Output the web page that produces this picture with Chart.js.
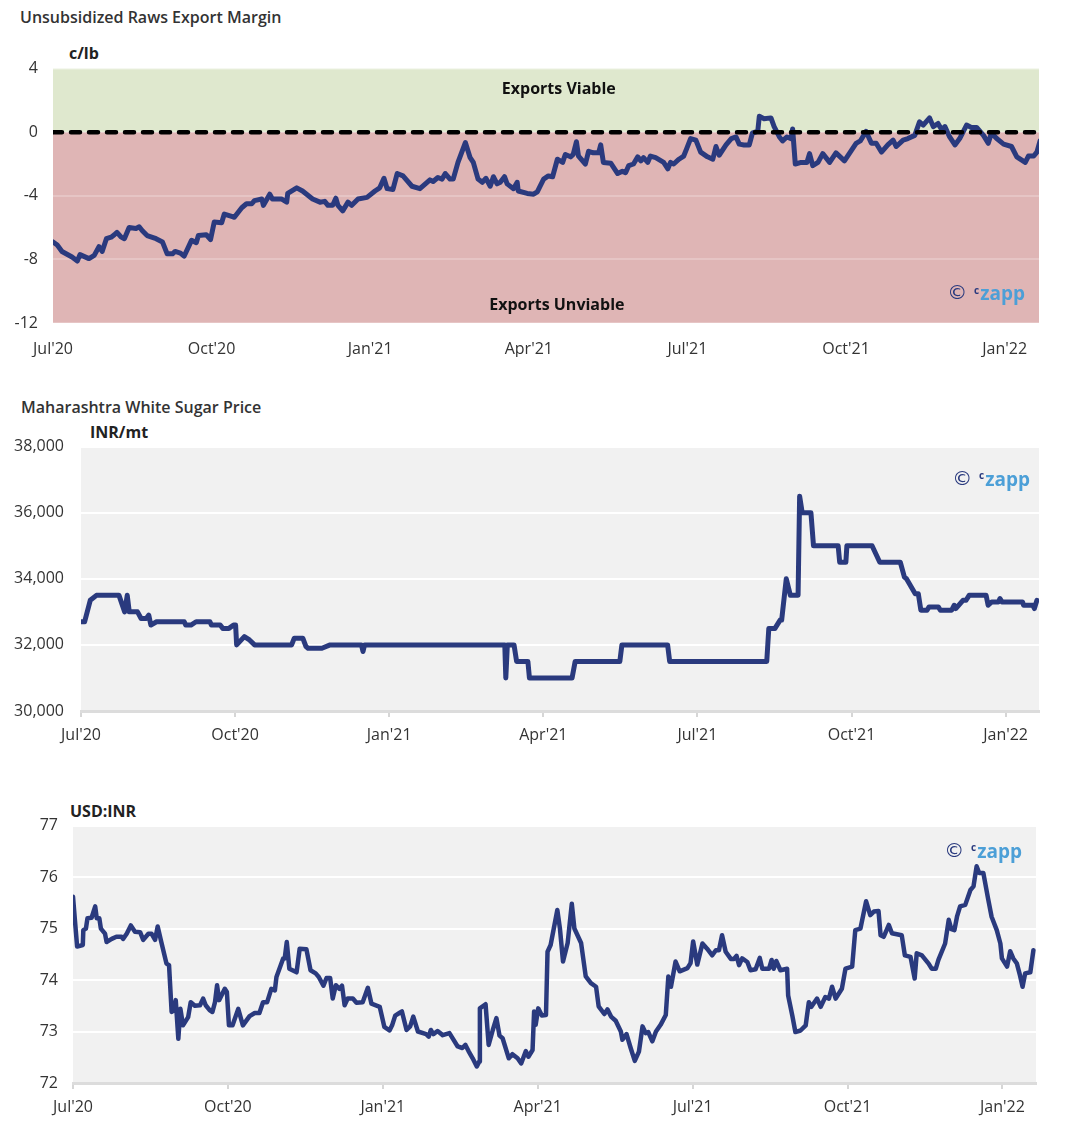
<!DOCTYPE html>
<html>
<head>
<meta charset="utf-8">
<script src="https://cdn.jsdelivr.net/npm/chart.js@4.4.1/dist/chart.umd.min.js"></script>
<style>
  body { margin: 0; background: #fff; font-family: 'Open Sans', sans-serif; }
  #page { position: relative; width: 1066px; height: 1134px; overflow: hidden; }
  .title { position: absolute; font-size: 16px; line-height: 20px; font-weight: 600; color: #333; white-space: nowrap; }
  .unit { position: absolute; font-size: 16px; line-height: 20px; font-weight: 700; color: #222; white-space: nowrap; }
  canvas { position: absolute; left: 0; }
</style>
</head>
<body>
<div id="page">
  <div class="title" style="left:20px; top:7px">Unsubsidized Raws Export Margin</div>
  <div class="unit" style="left:69px; top:43px">c/lb</div>
  <canvas id="marginChart" width="1066" height="313" style="top:44px"></canvas>

  <div class="title" style="left:21px; top:397px">Maharashtra White Sugar Price</div>
  <div class="unit" style="left:90px; top:422px">INR/mt</div>
  <canvas id="sugarChart" width="1066" height="325" style="top:420px"></canvas>

  <div class="unit" style="left:70px; top:801px">USD:INR</div>
  <canvas id="fxChart" width="1066" height="316" style="top:801px"></canvas>
</div>

<script>
// x values are months since 1 Jul 2020
const quarterTicks = [0, 3, 6, 9, 12, 15, 18];
const quarterLabels = ["Jul'20", "Oct'20", "Jan'21", "Apr'21", "Jul'21", "Oct'21", "Jan'22"];
const lastMonth = 18.65;

// Unsubsidized raws export margin, c/lb
const marginMonths = [0.00, 0.08, 0.17, 0.36, 0.46, 0.51, 0.68, 0.78, 0.87, 0.93, 1.01, 1.10, 1.16, 1.21, 1.29, 1.35,
  1.44, 1.57, 1.63, 1.69, 1.78, 1.95, 2.07, 2.16, 2.26, 2.31, 2.41, 2.48, 2.62, 2.71, 2.75, 2.90, 2.98, 3.05, 3.19,
  3.24, 3.38, 3.43, 3.57, 3.66, 3.76, 3.81, 3.95, 3.98, 4.10, 4.15, 4.32, 4.42, 4.44, 4.61, 4.72, 4.91, 5.05, 5.14,
  5.20, 5.29, 5.35, 5.39, 5.48, 5.58, 5.65, 5.77, 5.94, 6.09, 6.18, 6.26, 6.32, 6.43, 6.51, 6.62, 6.79, 6.94, 7.13,
  7.19, 7.28, 7.36, 7.42, 7.51, 7.57, 7.66, 7.80, 7.89, 7.95, 8.04, 8.12, 8.19, 8.27, 8.33, 8.40, 8.46, 8.54, 8.59,
  8.71, 8.78, 8.80, 8.97, 9.09, 9.16, 9.28, 9.37, 9.45, 9.54, 9.64, 9.69, 9.79, 9.84, 9.90, 9.94, 10.07, 10.13, 10.22,
  10.32, 10.36, 10.41, 10.55, 10.68, 10.77, 10.83, 10.89, 10.98, 11.06, 11.12, 11.17, 11.25, 11.30, 11.40, 11.55,
  11.63, 11.68, 11.74, 11.84, 11.93, 11.99, 12.06, 12.16, 12.25, 12.38, 12.48, 12.54, 12.60, 12.73, 12.83, 12.92,
  12.98, 13.07, 13.17, 13.23, 13.33, 13.36, 13.45, 13.58, 13.64, 13.74, 13.80, 13.88, 13.96, 13.99, 14.04, 14.15,
  14.26, 14.31, 14.37, 14.47, 14.56, 14.69, 14.81, 14.97, 15.19, 15.27, 15.38, 15.48, 15.57, 15.67, 15.79, 15.89,
  15.95, 16.08, 16.17, 16.30, 16.39, 16.46, 16.58, 16.65, 16.74, 16.81, 16.87, 16.96, 17.06, 17.15, 17.28, 17.37,
  17.47, 17.60, 17.69, 17.75, 17.85, 17.98, 18.13, 18.23, 18.39, 18.45, 18.55, 18.61, 18.67];
const marginValues = [-6.9, -7.1, -7.5, -7.85, -8.1, -7.7, -7.95, -7.75, -7.2, -7.5, -6.7, -6.6, -6.45, -6.3, -6.6, -6.7,
  -6.0, -6.05, -5.95, -6.2, -6.5, -6.7, -6.9, -7.65, -7.65, -7.5, -7.6, -7.8, -6.8, -6.95, -6.5, -6.45, -6.75, -5.65, -5.7,
  -5.15, -5.3, -5.35, -4.75, -4.5, -4.5, -4.3, -4.2, -4.6, -3.9, -4.2, -4.2, -4.4, -3.85, -3.5, -3.7, -4.2, -4.4, -4.35,
  -4.6, -4.6, -4.15, -4.6, -4.95, -4.4, -4.6, -4.2, -4.1, -3.7, -3.5, -2.9, -3.55, -3.6, -2.6, -2.75, -3.4, -3.55, -3.0,
  -3.1, -2.85, -2.95, -2.6, -2.95, -2.95, -1.9, -0.65, -1.6, -1.9, -2.95, -3.15, -2.9, -3.4, -2.8, -3.25, -3.15, -2.8, -3.25,
  -3.55, -3.15, -3.7, -3.85, -3.9, -3.75, -2.95, -2.75, -2.8, -1.7, -1.9, -1.4, -1.55, -1.4, -0.6, -1.5, -2.0, -1.2, -1.3,
  -1.3, -0.8, -1.9, -1.95, -2.6, -2.45, -2.55, -2.1, -2.0, -1.55, -1.8, -1.6, -1.9, -1.5, -1.6, -1.9,
  -2.3, -1.9, -2.0, -1.7, -1.5, -1.0, -0.4, -0.5, -1.25, -1.55, -1.7, -0.9, -1.45, -0.8, -0.4, -0.3,
  -0.75, -0.8, -0.8, -0.05, 0.05, 1.0, 0.85, 0.9, 0.35, -0.3, -0.55, -0.3, -0.4, 0.2, -2.0, -1.9,
  -1.9, -1.35, -2.1, -1.9, -1.35, -1.9, -1.3, -1.8, -0.7, -0.55, 0.05, -0.7, -0.7, -1.25, -0.8, -0.5,
  -0.9, -0.5, -0.4, -0.2, 0.65, 0.45, 0.9, 0.35, 0.55, 0.15, 0.35, -0.3, -0.8, -0.4, 0.45, 0.3,
  0.3, -0.2, -0.7, -0.05, -0.4, -0.75, -0.9, -1.55, -1.9, -1.5, -1.5, -1.25, -0.55];
const breakEven = [0, 0];
const marginTicks = [-12, 4, 4];   // min, max, step

// Maharashtra white sugar price, INR/mt
const sugarMonths = [0, 0.07, 0.18, 0.30, 0.74, 0.85, 0.90, 0.94, 1.10, 1.17, 1.27, 1.32, 1.36, 1.47, 2.01, 2.04, 2.14,
  2.24, 2.51, 2.54, 2.71, 2.76, 2.88, 2.97, 3.01, 3.03, 3.18, 3.28, 3.38, 4.10, 4.15, 4.32, 4.38, 4.42, 4.69, 4.85,
  5.46, 5.49, 5.52, 8.25, 8.27, 8.30, 8.43, 8.48, 8.70, 8.73, 9.56, 9.62, 10.49, 10.53, 11.42, 11.46, 13.35, 13.39,
  13.51, 13.61, 13.64, 13.73, 13.81, 13.96, 13.99, 14.04, 14.21, 14.26, 14.74, 14.77, 14.89, 14.91, 15.40, 15.55,
  15.95, 16.03, 16.07, 16.24, 16.30, 16.35, 16.47, 16.51, 16.69, 16.73, 16.95, 17.00, 17.03, 17.17, 17.23, 17.29,
  17.62, 17.66, 17.73, 17.86, 17.89, 17.93, 18.33, 18.35, 18.53, 18.56, 18.61];
const sugarValues = [32700, 32700, 33350, 33500, 33500, 33000, 33500, 33000, 33000, 32800, 32800, 32900, 32600, 32700,
  32700, 32600, 32600, 32700, 32700, 32600, 32600, 32500, 32500, 32600, 32600, 32000, 32250, 32150, 32000, 32000,
  32200, 32200, 31950, 31900, 31900, 32000, 32000, 31800, 32000, 32000, 31000, 32000, 32000, 31500, 31500, 31000,
  31000, 31500, 31500, 32000, 32000, 31500, 31500, 32500, 32500, 32750, 32750, 34000, 33500, 33500, 36500, 36000,
  36000, 35000, 35000, 34500, 34500, 35000, 35000, 34500, 34500, 34050, 34000, 33550, 33550, 33050, 33050, 33150,
  33150, 33050, 33050, 33200, 33100, 33350, 33350, 33500, 33500, 33200, 33300, 33300, 33400, 33300, 33300, 33200,
  33200, 33100, 33350];
const sugarTicks = [30000, 38000, 2000];

// USD:INR
const fxMonths = [0.00, 0.04, 0.08, 0.19, 0.20, 0.25, 0.28, 0.36, 0.43, 0.46, 0.51, 0.54, 0.62, 0.65, 0.75, 0.84, 0.94,
  0.97, 1.04, 1.12, 1.20, 1.30, 1.36, 1.46, 1.52, 1.59, 1.64, 1.71, 1.81, 1.86, 1.91, 1.95, 1.99, 2.04, 2.08, 2.13,
  2.23, 2.28, 2.36, 2.46, 2.52, 2.57, 2.65, 2.70, 2.75, 2.79, 2.83, 2.94, 2.98, 3.02, 3.09, 3.20, 3.29, 3.42, 3.52,
  3.61, 3.68, 3.76, 3.84, 3.91, 3.94, 4.07, 4.10, 4.14, 4.19, 4.33, 4.39, 4.52, 4.60, 4.70, 4.76, 4.85, 4.91, 4.98,
  5.03, 5.09, 5.16, 5.21, 5.26, 5.32, 5.42, 5.49, 5.61, 5.71, 5.78, 5.94, 6.03, 6.13, 6.18, 6.24, 6.32, 6.37, 6.46,
  6.53, 6.59, 6.68, 6.84, 6.89, 6.93, 6.98, 7.06, 7.16, 7.29, 7.35, 7.45, 7.54, 7.60, 7.66, 7.74, 7.82, 7.87, 7.88,
  7.99, 8.05, 8.13, 8.20, 8.26, 8.32, 8.44, 8.51, 8.61, 8.68, 8.77, 8.82, 8.90, 8.93, 8.96, 9.01, 9.08, 9.16, 9.19,
  9.25, 9.38, 9.43, 9.49, 9.58, 9.66, 9.71, 9.84, 9.93, 10.03, 10.13, 10.18, 10.29, 10.35, 10.42, 10.51, 10.61,
  10.64, 10.72, 10.80, 10.88, 10.96, 11.03, 11.09, 11.14, 11.22, 11.29, 11.38, 11.48, 11.53, 11.58, 11.67, 11.75,
  11.90, 11.96, 12.01, 12.09, 12.19, 12.28, 12.38, 12.45, 12.51, 12.57, 12.64, 12.74, 12.80, 12.85, 12.90, 12.96,
  13.06, 13.12, 13.22, 13.30, 13.35, 13.48, 13.53, 13.57, 13.62, 13.70, 13.83, 13.85, 13.93, 13.99, 14.09, 14.19,
  14.25, 14.30, 14.41, 14.48, 14.57, 14.64, 14.70, 14.77, 14.89, 14.96, 15.09, 15.15, 15.25, 15.36, 15.44, 15.51,
  15.60, 15.64, 15.70, 15.80, 15.86, 16.05, 16.11, 16.22, 16.30, 16.34, 16.44, 16.57, 16.63, 16.71, 16.76, 16.89,
  16.96, 17.01, 17.07, 17.12, 17.18, 17.28, 17.38, 17.44, 17.50, 17.55, 17.63, 17.72, 17.79, 17.89, 17.96, 17.99,
  18.09, 18.15, 18.21, 18.28, 18.34, 18.39, 18.44, 18.54, 18.60];
const fxValues = [75.62, 75.13, 74.65, 74.68, 74.97, 75.0, 75.2, 75.21, 75.43, 75.2, 75.2, 75.0, 74.9, 74.74, 74.8, 74.84,
  74.84, 74.8, 74.9, 75.06, 74.94, 74.93, 74.78, 74.9, 74.9, 74.78, 75.04, 74.74, 74.32, 74.29, 73.38, 73.41, 73.61,
  72.86, 73.44, 73.12, 73.28, 73.57, 73.5, 73.51, 73.64, 73.51, 73.41, 73.38, 73.57, 73.9, 73.61, 73.83, 73.77, 73.12,
  73.12, 73.44, 73.12, 73.3, 73.36, 73.36, 73.57, 73.57, 73.83, 73.8, 74.06, 74.42, 74.42, 74.74, 74.22, 74.15, 74.61,
  74.6, 74.19, 74.13, 74.06, 73.89, 74.04, 74.04, 73.64, 73.9, 73.83, 73.89, 73.51, 73.64, 73.64, 73.56, 73.57, 73.85,
  73.54, 73.48, 73.09, 73.02, 73.12, 73.31, 73.36, 73.39, 73.03, 73.1, 73.29, 73.0, 72.95, 72.9, 73.03, 72.95, 73.01,
  72.93, 72.97, 72.87, 72.71, 72.68, 72.74, 72.62, 72.48, 72.32, 72.42, 73.45, 73.53, 72.74, 73.03, 73.26, 72.92,
  72.87, 72.48, 72.56, 72.48, 72.38, 72.62, 72.51, 72.64, 73.39, 73.13, 73.45, 73.31, 73.32, 74.55, 74.68, 75.36,
  75.0, 74.36, 74.72, 75.48, 75.0, 74.72, 74.07, 73.94, 73.87, 73.49, 73.34, 73.43, 73.29, 73.21, 73.0, 72.84, 72.95,
  72.68, 72.43, 72.61, 73.1, 72.97, 72.99, 72.81, 73.0, 73.13, 73.32, 74.07, 73.87, 74.36, 74.17, 74.23, 74.33, 74.75,
  74.3, 74.71, 74.61, 74.48, 74.58, 74.58, 74.87, 74.55, 74.41, 74.41, 74.47, 74.29, 74.42, 74.35, 74.19, 74.21,
  74.43, 74.22, 74.22, 74.39, 74.22, 74.37, 74.19, 74.22, 73.7, 73.31, 72.99, 73.02, 73.12, 73.57, 73.48, 73.64,
  73.48, 73.67, 73.64, 73.87, 73.64, 73.83, 74.22, 74.26, 74.97, 75.0, 75.53, 75.26, 75.33, 75.34, 74.87, 74.84,
  75.07, 74.91, 74.87, 74.48, 74.45, 74.03, 74.52, 74.48, 74.32, 74.22, 74.22, 74.39, 74.71, 75.17, 74.99, 74.97,
  75.23, 75.43, 75.46, 75.75, 75.82, 76.21, 76.08, 76.08, 75.59, 75.23, 74.97, 74.71, 74.42, 74.26, 74.56, 74.42,
  74.32, 74.09, 73.87, 74.13, 74.15, 74.58];
const fxTicks = [72, 77, 1];

Chart.defaults.font.family = "'Open Sans', sans-serif";
Chart.defaults.font.size = 16;
Chart.defaults.color = '#333';

const NAVY = '#2a3a7e';

function toPoints(xs, ys) {
    return xs.map((x, i) => ({ x: x, y: ys[i] }));
}

function drawCzapp(ctx, rightX, midY) {
    ctx.save();
    ctx.textBaseline = 'middle';
    ctx.textAlign = 'right';
    ctx.font = "bold 19px 'Open Sans'";
    ctx.fillStyle = '#4c9fd7';
    ctx.fillText('zapp', rightX, midY + 1);
    const zw = ctx.measureText('zapp').width;
    ctx.font = "bold 10px 'Open Sans'";
    ctx.fillStyle = NAVY;
    ctx.fillText('c', rightX - zw - 1, midY - 3);
    ctx.font = "20px 'DejaVu Sans'";
    ctx.fillText('\u00A9', rightX - zw - 13, midY);
    ctx.restore();
}

// fills the plot area, draws the watermark and any labels in it
const plotDecor = {
    id: 'plotDecor',
    beforeDraw(chart, args, opts) {
        const { ctx, chartArea: a, scales } = chart;
        ctx.save();
        if (opts.split !== undefined) {
            const yz = scales.y.getPixelForValue(opts.split);
            ctx.fillStyle = opts.above;
            ctx.fillRect(a.left, a.top, a.right - a.left, yz - a.top);
            ctx.fillStyle = opts.below;
            ctx.fillRect(a.left, yz, a.right - a.left, a.bottom - yz);
        } else {
            ctx.fillStyle = opts.fill;
            ctx.fillRect(a.left, a.top, a.right - a.left, a.bottom - a.top);
        }
        ctx.restore();
    },
    afterDatasetsDraw(chart, args, opts) {
        const { ctx, chartArea: a, scales } = chart;
        (opts.labels || []).forEach(l => {
            ctx.save();
            ctx.font = "bold 16px 'Open Sans'";
            ctx.fillStyle = '#111';
            ctx.textAlign = 'center';
            ctx.textBaseline = 'middle';
            ctx.fillText(l.text, a.left + l.fx * (a.right - a.left), scales.y.getPixelForValue(l.y));
            ctx.restore();
        });
        const w = opts.mark;
        drawCzapp(ctx, a.right - w.right, w.fromTop !== undefined ? a.top + w.fromTop : a.bottom - w.fromBottom);
    }
};

function makeChart(id, o) {
    const datasets = [];
    if (o.dashed) {
        datasets.push({
            data: toPoints([0, lastMonth], o.dashed),
            borderColor: '#000',
            borderWidth: 4.5,
            borderDash: [9, 9],
            borderCapStyle: 'round',
            pointRadius: 0
        });
    }
    datasets.push({
        data: o.points,
        borderColor: NAVY,
        borderWidth: o.lineWidth,
        borderJoinStyle: 'round',
        borderCapStyle: 'round',
        pointRadius: 0,
        tension: 0
    });

    return new Chart(document.getElementById(id), {
        type: 'line',
        data: { datasets },
        plugins: [plotDecor],
        options: {
            responsive: false,
            animation: false,
            layout: { padding: { left: 0, right: 1066 - o.plotRight, top: 10, bottom: 0 } },
            plugins: {
                legend: { display: false },
                tooltip: { enabled: false },
                plotDecor: o.decor
            },
            scales: {
                x: {
                    type: 'linear',
                    min: 0,
                    max: lastMonth,
                    afterBuildTicks: s => { s.ticks = quarterTicks.map(v => ({ value: v })); },
                    afterFit: s => { s.height = o.xHeight; },
                    ticks: {
                        autoSkip: false,
                        maxRotation: 0,
                        padding: o.xPad,
                        callback: v => quarterLabels[quarterTicks.indexOf(v)]
                    },
                    grid: {
                        display: o.axisLine,
                        drawOnChartArea: false,
                        drawTicks: true,
                        tickLength: 6,
                        color: '#d6d6d6',
                        lineWidth: 2
                    },
                    border: { display: o.axisLine, color: '#dcdcdc', width: 3 }
                },
                y: {
                    min: o.yTicks[0],
                    max: o.yTicks[1],
                    afterFit: s => { s.width = o.plotLeft; },
                    ticks: {
                        stepSize: o.yTicks[2],
                        padding: o.yPad,
                        callback: v => v.toLocaleString('en-US')
                    },
                    grid: { color: o.gridColor, lineWidth: 2, drawTicks: false },
                    border: { display: false }
                }
            }
        }
    });
}

makeChart('marginChart', {
    points: toPoints(marginMonths, marginValues),
    dashed: breakEven,
    yTicks: marginTicks,
    plotLeft: 53, plotRight: 1039, xHeight: 34, yPad: 15, xPad: 11,
    lineWidth: 5,
    axisLine: false,
    gridColor: 'rgba(255,255,255,0.22)',
    decor: {
        split: 0, above: '#dfe8ce', below: '#dfb5b5',
        labels: [
            { text: 'Exports Viable', fx: 0.513, y: 2.7 },
            { text: 'Exports Unviable', fx: 0.511, y: -10.9 }
        ],
        mark: { right: 14, fromBottom: 29 }
    }
});

makeChart('sugarChart', {
    points: toPoints(sugarMonths, sugarValues),
    yTicks: sugarTicks,
    plotLeft: 81, plotRight: 1039, xHeight: 34, yPad: 17, xPad: 9,
    lineWidth: 5,
    axisLine: true,
    gridColor: '#ffffff',
    decor: { fill: '#f1f1f1', mark: { right: 9, fromTop: 33 } }
});

makeChart('fxChart', {
    points: toPoints(fxMonths, fxValues),
    yTicks: fxTicks,
    plotLeft: 73, plotRight: 1036, xHeight: 34, yPad: 15, xPad: 9,
    lineWidth: 4.5,
    axisLine: true,
    gridColor: '#ffffff',
    decor: { fill: '#f1f1f1', mark: { right: 14, fromTop: 26 } }
});
</script>
</body>
</html>
